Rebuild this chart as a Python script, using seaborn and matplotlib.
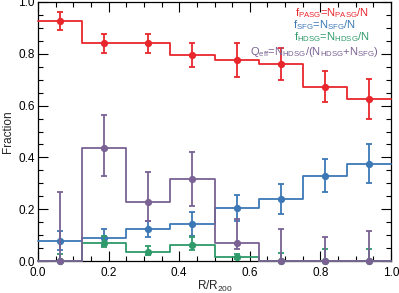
import numpy as np
import matplotlib
matplotlib.use("Agg")
import matplotlib.pyplot as plt
import seaborn as sns
import pandas as pd
from matplotlib.ticker import MultipleLocator

# ---- data ----
bin_edges = [0.0, 0.125, 0.25, 0.375, 0.5, 0.625, 0.75, 0.875, 1.0]
bin_centers = [0.0625, 0.1875, 0.3125, 0.4375, 0.5625, 0.6875, 0.8125, 0.9375]

f_pasg = [0.925, 0.840, 0.840, 0.795, 0.775, 0.760, 0.672, 0.625]
f_pasg_err = [0.035, 0.035, 0.035, 0.045, 0.065, 0.062, 0.060, 0.076]

f_sfg = [0.078, 0.090, 0.123, 0.143, 0.205, 0.240, 0.330, 0.375]
f_sfg_err = [0.037, 0.032, 0.032, 0.045, 0.050, 0.057, 0.063, 0.075]

f_hdsg = [0.0, 0.069, 0.036, 0.062, 0.016, 0.0, 0.0, 0.0]
f_hdsg_lo = [0.0, 0.016, 0.013, 0.018, 0.010, 0.0, 0.0, 0.0]
f_hdsg_hi = [0.027, 0.027, 0.022, 0.032, 0.012, 0.030, 0.048, 0.048]

q_eff = [0.0, 0.435, 0.226, 0.316, 0.070, 0.0, 0.0, 0.0]
q_eff_lo = [0.0, 0.105, 0.070, 0.105, 0.024, 0.0, 0.0, 0.0]
q_eff_hi = [0.265, 0.127, 0.117, 0.105, 0.094, 0.122, 0.094, 0.117]

colors = {"PASG": "#e8262c", "SFG": "#3b78b5", "HDSG": "#2f9a6a", "Qeff": "#7a6294"}

# ---- style ----
sns.set_style("ticks")
plt.rcParams["font.family"] = ["Liberation Sans", "DejaVu Sans"]
plt.rcParams["mathtext.fontset"] = "custom"
plt.rcParams["mathtext.rm"] = "Liberation Sans"
plt.rcParams["mathtext.it"] = "Liberation Sans"
plt.rcParams["mathtext.bf"] = "Liberation Sans"

fig = plt.figure(figsize=(3.99, 2.93), dpi=100)
ax = fig.add_axes([38 / 399, 32 / 293, 353 / 399, 259 / 293])

def step_series(vals, lo, hi, color, z):
    df = pd.DataFrame({"x": bin_edges, "y": list(vals) + [vals[-1]]})
    sns.lineplot(data=df, x="x", y="y", drawstyle="steps-post", color=color,
                 lw=1.3, ax=ax, zorder=z, clip_on=False, sort=False)
    ax.errorbar(bin_centers, vals, yerr=[lo, hi], fmt="o", color=color,
                ms=4.2, capsize=2.3, elinewidth=1.3, capthick=1.3,
                zorder=z, clip_on=False)

step_series(f_pasg, f_pasg_err, f_pasg_err, colors["PASG"], 3)
step_series(f_sfg, f_sfg_err, f_sfg_err, colors["SFG"], 3.1)
step_series(f_hdsg, f_hdsg_lo, f_hdsg_hi, colors["HDSG"], 3.2)
step_series(q_eff, q_eff_lo, q_eff_hi, colors["Qeff"], 3.3)

ax.set_xlim(0, 1)
ax.set_ylim(0, 1)
ax.xaxis.set_major_locator(MultipleLocator(0.2))
ax.xaxis.set_minor_locator(MultipleLocator(0.05))
ax.yaxis.set_major_locator(MultipleLocator(0.2))
ax.yaxis.set_minor_locator(MultipleLocator(0.05))
ax.tick_params(which="both", direction="in", top=True, right=True,
               labelsize=8.5, colors="black", width=0.8)
ax.tick_params(which="major", length=7)
ax.tick_params(which="minor", length=3.5)
ax.tick_params(axis="x", pad=4.5)
ax.tick_params(axis="y", pad=2.5)
for s in ax.spines.values():
    s.set_linewidth(0.9)
    s.set_color("black")

fig.canvas.draw()
ylabels = ax.get_yticklabels()
ylabels[0].set_va("bottom")
ylabels[-1].set_va("top")

ax.set_xlabel(r"R/R$_{200}$", fontsize=8.5, labelpad=0)
ax.set_ylabel("Fraction", fontsize=8.5, labelpad=3)

fs = 8
ax.text(0.728, 0.946, r"f$_{\rm PASG}$=N$_{\rm PASG}$/N", color=colors["PASG"],
        fontsize=fs, va="baseline", ha="left")
ax.text(0.722, 0.900, r"f$_{\rm SFG}$=N$_{\rm SFG}$/N", color=colors["SFG"],
        fontsize=fs, va="baseline", ha="left")
ax.text(0.725, 0.854, r"f$_{\rm HDSG}$=N$_{\rm HDSG}$/N", color=colors["HDSG"],
        fontsize=fs, va="baseline", ha="left")
ax.text(0.600, 0.796, r"Q$_{\rm eff}$=N$_{\rm HDSG}$/(N$_{\rm HDSG}$+N$_{\rm SFG}$)",
        color=colors["Qeff"], fontsize=fs, va="baseline", ha="left")

fig.savefig("out.png", dpi=100)
